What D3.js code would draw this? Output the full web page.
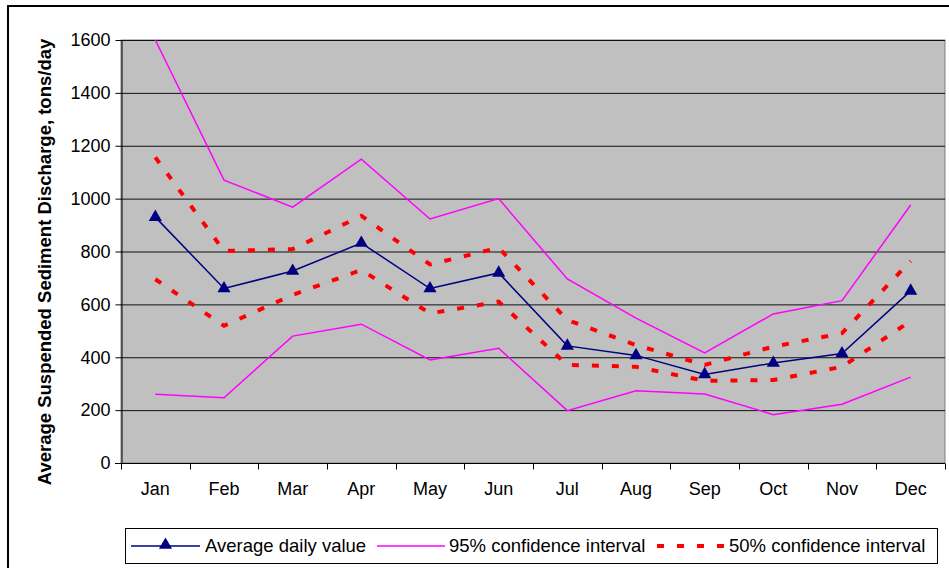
<!DOCTYPE html>
<html>
<head>
<meta charset="utf-8">
<script src="https://cdn.jsdelivr.net/npm/d3@7"></script>
<style>
  body { margin: 0; background: #fff; }
  text { font-family: "Liberation Sans", Arial, sans-serif; }
</style>
</head>
<body>
<svg id="chart" width="949" height="568"></svg>
<script>
  // values, tons/day
  let months = ["Jan", "Feb", "Mar", "Apr", "May", "Jun", "Jul", "Aug", "Sep", "Oct", "Nov", "Dec"];
  let avgDaily = [930, 660, 726, 832, 660, 719, 443, 407, 335, 378, 414, 651];
  let upper95 = [1600, 1070, 968, 1149, 923, 1000, 696, 548, 416, 564, 614, 976];
  let lower95 = [260, 247, 480, 525, 390, 434, 198, 273, 261, 183, 222, 325];
  let upper50 = [1156, 802, 809, 935, 751, 814, 541, 446, 371, 440, 491, 764];
  let lower50 = [695, 519, 636, 730, 566, 610, 371, 364, 311, 314, 364, 537];
  let yTicks = [0, 200, 400, 600, 800, 1000, 1200, 1400, 1600];

  let svg = d3.select("#chart");
  let margin = {top: 40, left: 121, right: 945, bottom: 463};

  // outer frame
  svg.append("rect")
    .attr("x", 8).attr("y", 6)
    .attr("width", 960).attr("height", 580)
    .attr("fill", "none").attr("stroke", "#000").attr("stroke-width", 2);

  let x = d3.scaleBand().domain(months).range([margin.left, margin.right]);
  let y = d3.scaleLinear().domain([0, 1600]).range([margin.bottom, margin.top]);
  let cx = function(m) { return x(m) + x.bandwidth() / 2; };

  // plot area
  svg.append("rect")
    .attr("x", margin.left).attr("y", margin.top)
    .attr("width", margin.right - margin.left).attr("height", margin.bottom - margin.top)
    .attr("fill", "#c0c0c0").attr("stroke", "#808080").attr("stroke-width", 1);

  // gridlines
  svg.append("g")
    .selectAll("line")
    .data(yTicks.filter(function(d) { return d > 0; }))
    .enter().append("line")
    .attr("x1", margin.left).attr("x2", margin.right)
    .attr("y1", function(d) { return y(d) + 0.5; })
    .attr("y2", function(d) { return y(d) + 0.5; })
    .attr("stroke", "#111").attr("stroke-width", 1);

  // y axis
  let yAxisG = svg.append("g")
    .attr("transform", "translate(" + (margin.left + 0.5) + ",0)")
    .call(d3.axisLeft(y).tickValues(yTicks).tickFormat(d3.format("d")).tickSize(6).tickSizeOuter(0).tickPadding(5));
  yAxisG.selectAll("text").style("font-size", "18px").attr("fill", "#000")
    .attr("font-family", "Liberation Sans, Arial, sans-serif");
  yAxisG.selectAll("path, line").attr("stroke", "#000");

  // x axis: baseline, boundary ticks, labels
  let xAxisG = svg.append("g")
    .attr("transform", "translate(0," + (margin.bottom + 0.5) + ")")
    .call(d3.axisBottom(x).tickSize(0).tickPadding(19));
  xAxisG.select(".domain").attr("stroke", "#000").attr("d", "M" + (margin.left - 6) + ",0H" + margin.right);
  xAxisG.selectAll("text").style("font-size", "18px").attr("fill", "#000")
    .attr("font-family", "Liberation Sans, Arial, sans-serif");
  let bounds = months.map(function(m) { return x(m); }).concat([margin.right]);
  xAxisG.selectAll(".bound")
    .data(bounds)
    .enter().append("line")
    .attr("class", "bound")
    .attr("x1", function(d) { return Math.round(d) + 0.5; })
    .attr("x2", function(d) { return Math.round(d) + 0.5; })
    .attr("y1", 0).attr("y2", 6)
    .attr("stroke", "#000");

  // y axis title
  svg.append("text")
    .attr("transform", "translate(51,262) rotate(-90)")
    .attr("text-anchor", "middle")
    .style("font-size", "18.5px").style("font-weight", "bold")
    .text("Average Suspended Sediment Discharge, tons/day");

  let line = d3.line()
    .x(function(d, i) { return cx(months[i]); })
    .y(function(d) { return y(d); });

  let series = [
    {values: upper95, color: "#ff00ff", width: 1.5, dash: null},
    {values: lower95, color: "#ff00ff", width: 1.5, dash: null},
    {values: upper50, color: "#ff0000", width: 4, dash: "7,13"},
    {values: lower50, color: "#ff0000", width: 4, dash: "7,13"},
    {values: avgDaily, color: "#000080", width: 1.5, dash: null}
  ];
  series.forEach(function(s) {
    svg.append("path")
      .datum(s.values)
      .attr("d", line)
      .attr("fill", "none")
      .attr("stroke", s.color)
      .attr("stroke-width", s.width)
      .attr("stroke-dasharray", s.dash);
  });

  let tri = d3.symbol().type(d3.symbolTriangle).size(75);
  svg.selectAll(".marker")
    .data(avgDaily)
    .enter().append("path")
    .attr("class", "marker")
    .attr("transform", function(d, i) { return "translate(" + cx(months[i]) + "," + y(d) + ")"; })
    .attr("d", tri)
    .attr("fill", "#000080");

  // legend
  let legend = svg.append("g");
  legend.append("rect")
    .attr("x", 125.5).attr("y", 528.5).attr("width", 812).attr("height", 35)
    .attr("fill", "#fff").attr("stroke", "#000");
  let items = [
    {label: "Average daily value", color: "#000080", width: 1.5, dash: null, x0: 131, x1: 200, tx: 205, marker: true},
    {label: "95% confidence interval", color: "#ff00ff", width: 1.5, dash: null, x0: 377, x1: 445, tx: 449, marker: false},
    {label: "50% confidence interval", color: "#ff0000", width: 4, dash: "7,13", x0: 657, x1: 726, tx: 729, marker: false}
  ];
  items.forEach(function(it) {
    legend.append("line")
      .attr("x1", it.x0).attr("x2", it.x1).attr("y1", 546).attr("y2", 546)
      .attr("stroke", it.color).attr("stroke-width", it.width)
      .attr("stroke-dasharray", it.dash);
    if (it.marker) {
      legend.append("path")
        .attr("transform", "translate(" + ((it.x0 + it.x1) / 2) + ",545)")
        .attr("d", tri).attr("fill", it.color);
    }
    legend.append("text")
      .attr("x", it.tx).attr("y", 552)
      .style("font-size", "18.5px")
      .text(it.label);
  });
</script>
</body>
</html>
